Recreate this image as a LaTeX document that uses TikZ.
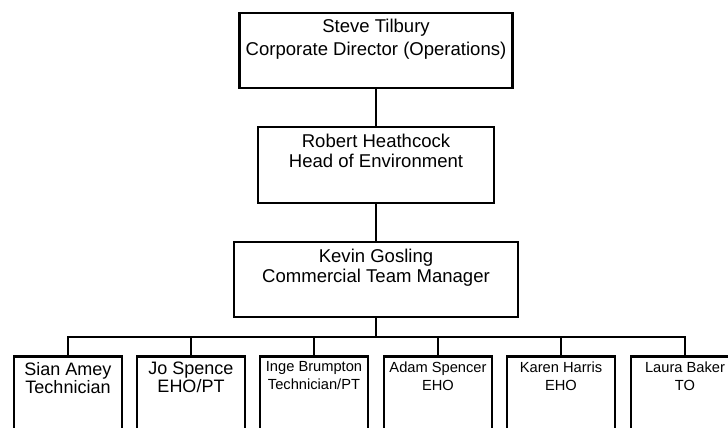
\documentclass[tikz,border=0pt]{standalone}
\usepackage{fontspec}
\setmainfont{Liberation Sans}
\begin{document}
\begin{tikzpicture}[x=0.75pt,y=-0.75pt,
  box/.style={draw,line width=1.9pt,rectangle,inner sep=0pt},
  txt/.style={anchor=north,inner sep=0pt,align=center},
  big/.style={font=\fontsize{13.9}{17.25}\selectfont},
  mid/.style={font=\fontsize{13.9}{15}\selectfont},
  small/.style={font=\fontsize{11}{13.5}\selectfont},
  med/.style={font=\fontsize{13.5}{13.5}\selectfont},
  conn/.style={line width=1.9pt}]
\useasboundingbox (0,0) rectangle (728,428);
\clip (0,0) rectangle (728,428);
% top levels
\node[box,minimum width=273*0.75pt,minimum height=75*0.75pt] (s) at (376,50.5) {};
\node[txt,big] (st) at ([yshift=-7*0.75pt]s.north) {Steve Tilbury\\Corporate Director (Operations)};
\node[box,minimum width=236*0.75pt,minimum height=76*0.75pt] (r) at (376,165) {};
\node[txt,mid] (rt) at ([yshift=-8*0.75pt]r.north) {Robert Heathcock\\Head of Environment};
\node[box,minimum width=284*0.75pt,minimum height=75*0.75pt] (k) at (376,279.5) {};
\node[txt,mid] (kt) at ([yshift=-8*0.75pt]k.north) {Kevin Gosling\\Commercial Team Manager};
% bottom row
\foreach \n/\x in {b1/68,b2/191,b3/314,b4/438,b5/561,b6/685}{
  \node[box,minimum width=108*0.75pt,minimum height=110*0.75pt,anchor=north] (\n) at (\x,355) {};
}
\node[txt,med] (t1) at ([yshift=-7*0.75pt]b1.north) {Sian Amey\\Technician};
\node[txt,med] (t2) at ([yshift=-7*0.75pt]b2.north) {Jo Spence\\EHO/PT};
\node[txt,small] (t3) at ([yshift=-6*0.75pt]b3.north) {Inge Brumpton\\Technician/PT};
\node[txt,small] (t4) at ([yshift=-7*0.75pt]b4.north) {Adam Spencer\\EHO};
\node[txt,small] (t5) at ([yshift=-7*0.75pt]b5.north) {Karen Harris\\EHO};
\node[txt,small] (t6) at ([yshift=-7*0.75pt]b6.north) {Laura Baker\\TO};
% connectors
\draw[conn] (s.south) -- (r.north);
\draw[conn] (r.south) -- (k.north);
\coordinate (bar) at (376,337);
\draw[conn] (k.south) -- (bar);
\draw[conn] (b1.north) |- (bar) -| (b6.north);
\foreach \n in {b2,b3,b4,b5}{
  \draw[conn] (\n.north) -- (\n.north |- bar);
}
\end{tikzpicture}
\end{document}
